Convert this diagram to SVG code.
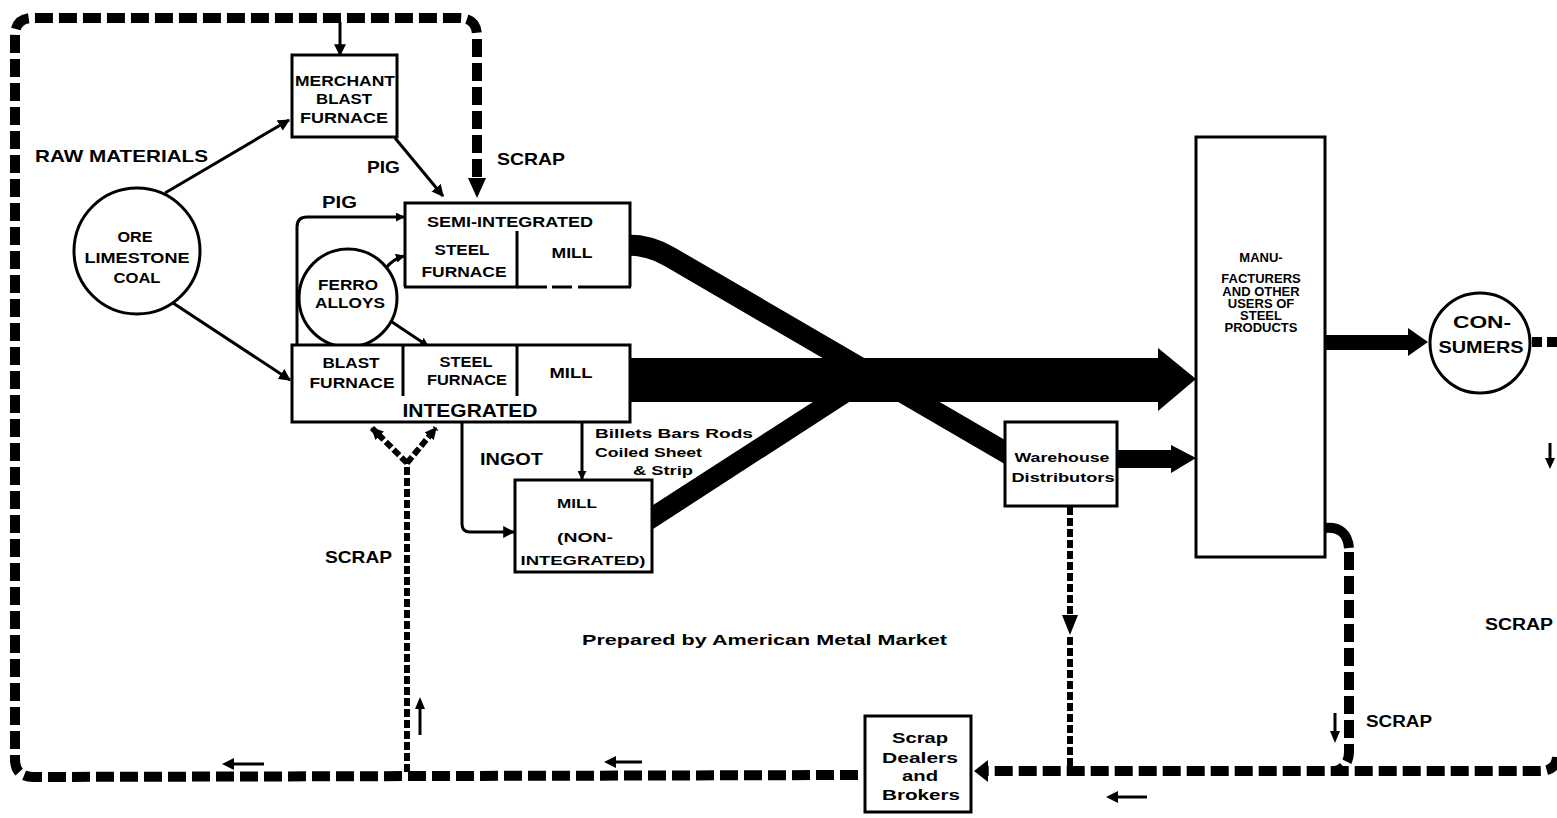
<svg xmlns="http://www.w3.org/2000/svg" width="1557" height="818" viewBox="0 0 1557 818">
<style>
.t{font-family:"Liberation Sans",Arial,sans-serif;font-weight:bold;fill:#000}
.m{text-anchor:middle}
.box{fill:#fff;stroke:#000;stroke-width:3}
.ln{fill:none;stroke:#000;stroke-width:3}
.dl{fill:none;stroke:#000;stroke-width:10;stroke-dasharray:18 6}
.ds{fill:none;stroke:#000;stroke-width:6;stroke-dasharray:8 3}
.hd{fill:#000}
</style>
<defs>
<marker id="ah" viewBox="0 0 10 10" refX="9" refY="5" markerWidth="12" markerHeight="12" markerUnits="userSpaceOnUse" orient="auto"><path d="M0,0 L10,5 L0,10 z"/></marker>
<marker id="as" viewBox="0 0 10 10" refX="9" refY="5" markerWidth="9" markerHeight="9" markerUnits="userSpaceOnUse" orient="auto"><path d="M0,0 L10,5 L0,10 z"/></marker>
</defs>
<rect width="1557" height="818" fill="#fff"/>
<g id="connectors">
  <!-- thick product flows -->
  <path d="M628,245 Q650,245 670,257 L1010,455" fill="none" stroke="#000" stroke-width="21"/>
  <polygon class="hd" points="650,507 847,380 883,380 650,531"/>
  <polygon class="hd" points="630,358 1158,358 1158,348 1196,379 1158,411 1158,402 630,402"/>
  <polygon class="hd" points="1117,450 1171,450 1171,445 1196,458 1171,473 1171,468 1117,468"/>
  <polygon class="hd" points="1325,335 1408,335 1408,328 1428,342 1408,356 1408,350 1325,350"/>
  <!-- scrap loops -->
  <path class="dl" d="M858,775 L33,777 Q15,777 15,759 L15,36 Q15,18 33,18 L459,18 Q477,18 477,36 L477,180"/>
  <polygon class="hd" points="468,178 486,178 477,198"/>
  <path class="dl" d="M1557,757 Q1556,771 1540,771 L988,771"/>
  <polygon class="hd" points="988,760 988,782 974,771"/>
  <line class="ds" x1="1070" y1="507" x2="1070" y2="617"/>
  <polygon class="hd" points="1062,615 1078,615 1070,635"/>
  <line class="ds" x1="1070" y1="637" x2="1070" y2="768"/>
  <line class="ds" x1="407" y1="772" x2="407" y2="463"/>
  <line class="ds" x1="407" y1="463" x2="372" y2="428" marker-end="url(#ah)"/>
  <line class="ds" x1="407" y1="463" x2="436" y2="428" marker-end="url(#ah)"/>
  <path d="M1325,528 Q1347,526 1349,548" fill="none" stroke="#000" stroke-width="10"/>
  <path class="dl" d="M1349,552 L1349,752 Q1349,766 1336,771"/>
  <line x1="1532" y1="342" x2="1557" y2="342" stroke="#000" stroke-width="10" stroke-dasharray="10 5"/>
  <!-- solid connectors -->
  <line class="ln" x1="340" y1="22" x2="340" y2="55" marker-end="url(#ah)"/>
  <line class="ln" x1="165" y1="193" x2="289" y2="120" marker-end="url(#ah)"/>
  <line class="ln" x1="173" y1="303" x2="290" y2="380" marker-end="url(#ah)"/>
  <line class="ln" x1="395" y1="138" x2="443" y2="196" marker-end="url(#ah)"/>
  <path class="ln" d="M297,345 L297,227 Q297,217 307,217 L404,217" marker-end="url(#as)"/>
  <path class="ln" d="M386,268 Q393,259 404,256" marker-end="url(#as)"/>
  <line class="ln" x1="386" y1="318" x2="428" y2="346" marker-end="url(#as)"/>
  <path class="ln" d="M462,422 L462,524 Q462,532 470,532 L514,532" marker-end="url(#ah)"/>
  <line class="ln" x1="582" y1="422" x2="582" y2="479" marker-end="url(#as)"/>
  <!-- small direction arrows -->
  <line class="ln" x1="232" y1="764" x2="264" y2="764"/>
  <polygon class="hd" points="222,764 234,758 234,770"/>
  <line class="ln" x1="614" y1="762" x2="642" y2="762"/>
  <polygon class="hd" points="604,762 616,756 616,768"/>
  <line class="ln" x1="1116" y1="797" x2="1147" y2="797"/>
  <polygon class="hd" points="1106,797 1118,791 1118,803"/>
  <line class="ln" x1="420" y1="707" x2="420" y2="735"/>
  <polygon class="hd" points="420,697 415,709 425,709"/>
  <line class="ln" x1="1335" y1="713" x2="1335" y2="733"/>
  <polygon class="hd" points="1335,743 1330,731 1340,731"/>
  <line class="ln" x1="1550" y1="443" x2="1550" y2="460"/>
  <polygon class="hd" points="1550,469 1545,458 1555,458"/>
</g>
<g id="ore">
  <circle cx="137" cy="251" r="63" class="box"/>
  <text class="t m" x="135" y="242" font-size="14" textLength="35" lengthAdjust="spacingAndGlyphs">ORE</text>
  <text class="t m" x="137" y="263" font-size="14" textLength="105" lengthAdjust="spacingAndGlyphs">LIMESTONE</text>
  <text class="t m" x="137" y="283" font-size="14" textLength="47" lengthAdjust="spacingAndGlyphs">COAL</text>
</g>
<g id="merchant">
  <rect x="292" y="55" width="105" height="82" class="box"/>
  <text class="t m" x="345" y="86" font-size="14" textLength="100" lengthAdjust="spacingAndGlyphs">MERCHANT</text>
  <text class="t m" x="344" y="104" font-size="14" textLength="56" lengthAdjust="spacingAndGlyphs">BLAST</text>
  <text class="t m" x="344" y="123" font-size="14" textLength="88" lengthAdjust="spacingAndGlyphs">FURNACE</text>
</g>
<g id="semi">
  <path d="M405,287 L405,203 L630,203 L630,287" class="box"/>
  <line class="ln" x1="404" y1="287" x2="518" y2="287"/>
  <line class="ln" x1="517" y1="287" x2="631" y2="287" stroke-dasharray="30 5 20 6 60"/>
  <line class="ln" x1="517" y1="231" x2="517" y2="287"/>
  <text class="t m" x="510" y="227" font-size="14" textLength="166" lengthAdjust="spacingAndGlyphs">SEMI-INTEGRATED</text>
  <text class="t m" x="462" y="255" font-size="14" textLength="55" lengthAdjust="spacingAndGlyphs">STEEL</text>
  <text class="t m" x="464" y="277" font-size="14" textLength="85" lengthAdjust="spacingAndGlyphs">FURNACE</text>
  <text class="t m" x="572" y="258" font-size="14" textLength="41" lengthAdjust="spacingAndGlyphs">MILL</text>
</g>
<g id="ferro">
  <circle cx="348" cy="298" r="49" class="box"/>
  <text class="t m" x="348" y="290" font-size="14" textLength="60" lengthAdjust="spacingAndGlyphs">FERRO</text>
  <text class="t m" x="350" y="308" font-size="14" textLength="70" lengthAdjust="spacingAndGlyphs">ALLOYS</text>
</g>
<g id="integrated">
  <rect x="292" y="345" width="338" height="77" class="box"/>
  <line class="ln" x1="403" y1="345" x2="403" y2="396"/>
  <line class="ln" x1="517" y1="345" x2="517" y2="396"/>
  <text class="t m" x="351" y="368" font-size="14" textLength="57" lengthAdjust="spacingAndGlyphs">BLAST</text>
  <text class="t m" x="352" y="388" font-size="14" textLength="85" lengthAdjust="spacingAndGlyphs">FURNACE</text>
  <text class="t m" x="466" y="367" font-size="14" textLength="53" lengthAdjust="spacingAndGlyphs">STEEL</text>
  <text class="t m" x="467" y="385" font-size="14" textLength="80" lengthAdjust="spacingAndGlyphs">FURNACE</text>
  <text class="t m" x="571" y="378" font-size="14" textLength="43" lengthAdjust="spacingAndGlyphs">MILL</text>
  <text class="t m" x="470" y="417" font-size="18" textLength="135" lengthAdjust="spacingAndGlyphs">INTEGRATED</text>
</g>
<g id="mill">
  <rect x="515" y="480" width="137" height="92" class="box"/>
  <text class="t m" x="577" y="508" font-size="13" textLength="40" lengthAdjust="spacingAndGlyphs">MILL</text>
  <text class="t m" x="585" y="542" font-size="13" textLength="56" lengthAdjust="spacingAndGlyphs">(NON-</text>
  <text class="t m" x="583" y="565" font-size="13" textLength="125" lengthAdjust="spacingAndGlyphs">INTEGRATED)</text>
</g>
<g id="warehouse">
  <rect x="1005" y="422" width="112" height="84" class="box"/>
  <text class="t m" x="1062" y="462" font-size="12" textLength="95" lengthAdjust="spacingAndGlyphs">Warehouse</text>
  <text class="t m" x="1063" y="482" font-size="12" textLength="103" lengthAdjust="spacingAndGlyphs">Distributors</text>
</g>
<g id="manufacturers">
  <rect x="1196" y="137" width="129" height="420" class="box"/>
  <text class="t m" x="1261" y="262" font-size="13">MANU-</text>
  <text class="t m" x="1261" y="283" font-size="13">FACTURERS</text>
  <text class="t m" x="1261" y="296" font-size="13">AND OTHER</text>
  <text class="t m" x="1261" y="308" font-size="13">USERS OF</text>
  <text class="t m" x="1261" y="320" font-size="13">STEEL</text>
  <text class="t m" x="1261" y="332" font-size="13">PRODUCTS</text>
</g>
<g id="consumers">
  <circle cx="1480" cy="343" r="50" class="box"/>
  <text class="t m" x="1482" y="328" font-size="17" textLength="58" lengthAdjust="spacingAndGlyphs">CON-</text>
  <text class="t m" x="1481" y="353" font-size="17" textLength="85" lengthAdjust="spacingAndGlyphs">SUMERS</text>
</g>
<g id="scrapdealers">
  <rect x="865" y="716" width="106" height="96" class="box"/>
  <text class="t m" x="920" y="743" font-size="15" textLength="56" lengthAdjust="spacingAndGlyphs">Scrap</text>
  <text class="t m" x="920" y="763" font-size="15" textLength="76" lengthAdjust="spacingAndGlyphs">Dealers</text>
  <text class="t m" x="920" y="781" font-size="15" textLength="36" lengthAdjust="spacingAndGlyphs">and</text>
  <text class="t m" x="921" y="800" font-size="15" textLength="78" lengthAdjust="spacingAndGlyphs">Brokers</text>
</g>
<g id="labels">
  <text class="t" x="35" y="162" font-size="17" textLength="173" lengthAdjust="spacingAndGlyphs">RAW MATERIALS</text>
  <text class="t" x="367" y="173" font-size="17" textLength="33" lengthAdjust="spacingAndGlyphs">PIG</text>
  <text class="t" x="497" y="165" font-size="17" textLength="68" lengthAdjust="spacingAndGlyphs">SCRAP</text>
  <text class="t" x="322" y="208" font-size="17" textLength="35" lengthAdjust="spacingAndGlyphs">PIG</text>
  <text class="t" x="480" y="465" font-size="17" textLength="63" lengthAdjust="spacingAndGlyphs">INGOT</text>
  <text class="t" x="595" y="438" font-size="12" textLength="158" lengthAdjust="spacingAndGlyphs">Billets  Bars  Rods</text>
  <text class="t" x="595" y="457" font-size="12" textLength="107" lengthAdjust="spacingAndGlyphs">Coiled Sheet</text>
  <text class="t" x="633" y="475" font-size="12" textLength="60" lengthAdjust="spacingAndGlyphs">&amp; Strip</text>
  <text class="t" x="325" y="563" font-size="17" textLength="67" lengthAdjust="spacingAndGlyphs">SCRAP</text>
  <text class="t" x="582" y="645" font-size="15" textLength="365" lengthAdjust="spacingAndGlyphs">Prepared by American Metal Market</text>
  <text class="t" x="1366" y="727" font-size="16" textLength="66" lengthAdjust="spacingAndGlyphs">SCRAP</text>
  <text class="t" x="1485" y="630" font-size="16" textLength="68" lengthAdjust="spacingAndGlyphs">SCRAP</text>
</g>
</svg>
